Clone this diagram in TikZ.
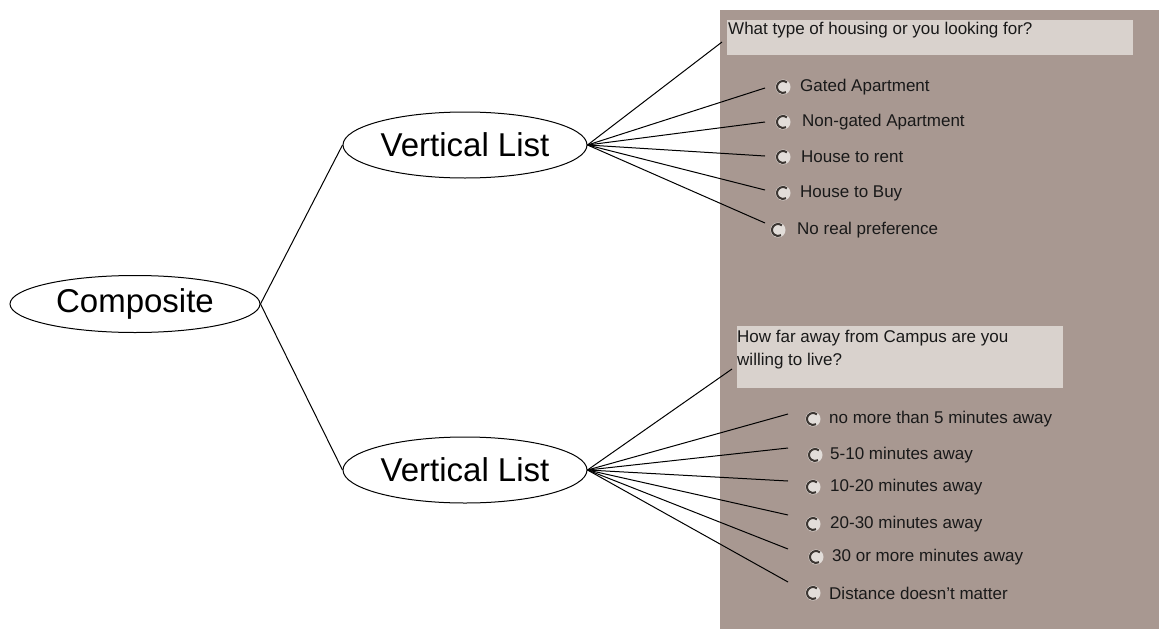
\documentclass[tikz,border=0pt]{standalone}
\usepackage{fontspec}
\setmainfont{Liberation Sans}
\usetikzlibrary{shapes.geometric}
\definecolor{panel}{RGB}{168,152,145}
\definecolor{qbox}{RGB}{217,210,205}
\definecolor{radiofill}{RGB}{226,221,217}
\definecolor{radioedge}{RGB}{60,54,50}
\definecolor{uitext}{RGB}{25,25,25}
\begin{document}
\begin{tikzpicture}[x=1pt,y=-1pt,
  oval/.style={ellipse,draw,line width=1pt,inner sep=0pt,font=\fontsize{33}{36}\selectfont},
  opt/.style={anchor=west,inner sep=0pt,text=uitext,font=\fontsize{17}{20}\selectfont},
  radio/.style={circle,inner sep=0pt,minimum size=15pt,fill=radiofill},
  link/.style={line width=1pt}]
\useasboundingbox (0,0) rectangle (1159,629);
\fill[panel] (720,10) rectangle (1159,629);
% question boxes
\node[fill=qbox,anchor=north west,minimum width=406pt,minimum height=35pt,inner sep=0pt] (q1) at (727,20) {};
\node[opt] (q1t) at (728,30) {What type of housing or you looking for?};
\node[fill=qbox,anchor=north west,minimum width=326pt,minimum height=62pt,inner sep=0pt] (q2) at (737,326) {};
\node[opt] (q2a) at (737,338) {How far away from Campus are you};
\node[opt] (q2b) at (737,361) {willing to live?};
% ellipses
\node[oval,minimum width=250pt,minimum height=57pt] (comp) at (135,304) {Composite};
\node[oval,minimum width=244pt,minimum height=66pt] (vl1) at (465,145) {Vertical List};
\node[oval,minimum width=244pt,minimum height=66pt] (vl2) at (465,470) {Vertical List};
\draw[link] (comp.east) -- (vl1.west);
\draw[link] (comp.east) -- (vl2.west);
% connector ends
\coordinate (q1end) at (722,42);
\coordinate (q2end) at (732,369);
\draw[link] (vl1.east) -- (q1end);
\draw[link] (vl2.east) -- (q2end);
% options panel 1
\foreach \i/\y/\rx/\tx/\lab/\ey in {
  1/87/783/800/Gated Apartment/88,
  2/122/783/802/Non-gated Apartment/122,
  3/157/783/801/House to rent/156,
  4/193/783/800/House to Buy/190,
  5/230/778/797/No real preference/223}{
  \node[radio] (ra\i) at (\rx,\y) {};
  \draw[radioedge,line width=2pt] ([shift={(50:6pt)}]ra\i.center) arc (50:300:6pt);
  \node[opt] (ta\i) at (\tx,\y) {\lab};
  \coordinate (ea\i) at (765,\ey);
  \draw[link] (vl1.east) -- (ea\i);
}
% options panel 2
\foreach \i/\y/\rx/\tx/\lab/\ey in {
  1/419/813/829/no more than 5 minutes away/414,
  2/455/815/830/5-10 minutes away/448,
  3/487/813/830/10-20 minutes away/481,
  4/524/813/830/20-30 minutes away/515,
  5/557/816/832/30 or more minutes away/549,
  6/593/813/829/Distance doesn't matter/582}{
  \node[radio] (rb\i) at (\rx,\y) {};
  \draw[radioedge,line width=2pt] ([shift={(50:6pt)}]rb\i.center) arc (50:300:6pt);
  \node[opt] (tb\i) at (\tx,\y) {\lab};
  \coordinate (eb\i) at (788,\ey);
  \draw[link] (vl2.east) -- (eb\i);
}
\end{tikzpicture}
\end{document}
